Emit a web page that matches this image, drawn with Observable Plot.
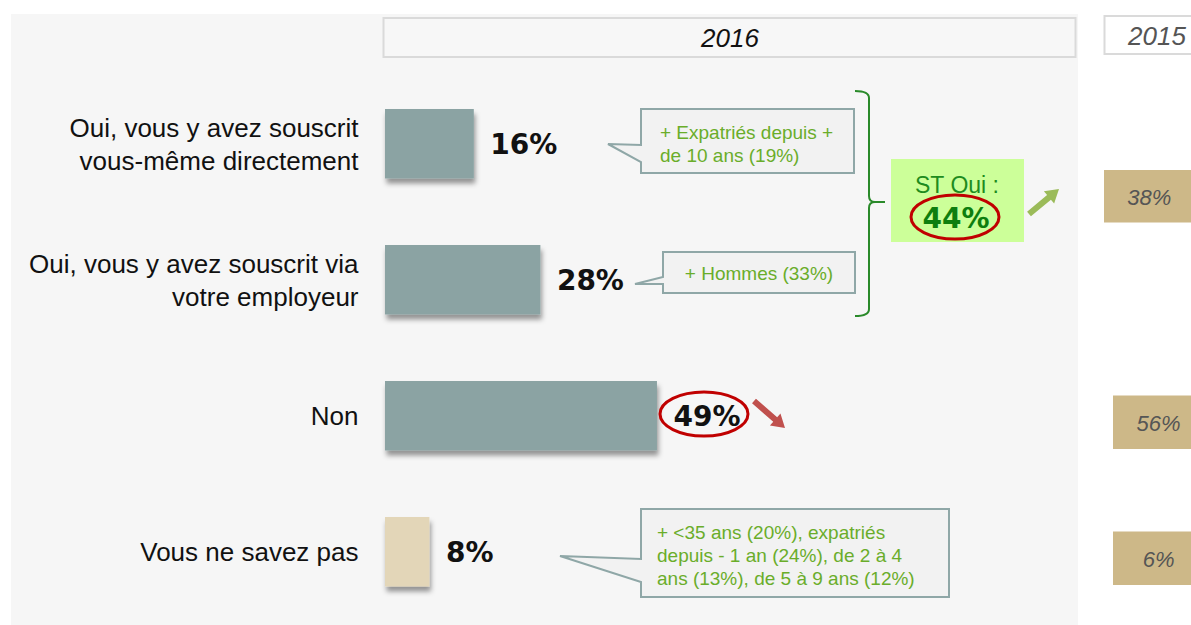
<!DOCTYPE html>
<html><head><meta charset="utf-8">
<script src="https://cdn.jsdelivr.net/npm/d3@7"></script>
<script src="https://cdn.jsdelivr.net/npm/@observablehq/plot@0.6"></script>
<style>
html,body{margin:0;padding:0;background:#fff;}
#chart{position:relative;width:1191px;height:625px;overflow:hidden}
</style></head><body><div id="chart"></div>
<script>
// ---- data ----
const categories = [
  "Oui, vous y avez souscrit\nvous-même directement",
  "Oui, vous y avez souscrit via\nvotre employeur",
  "Non",
  "Vous ne savez pas"
];
const values2016 = [16, 28, 49, 8];
const year2016 = "2016";
const year2015 = "2015";
const subtotalLabel = "ST Oui :";
const subtotal2016 = 44;
const subtotal2015 = 38;
const rows2015 = ["Non", "Vous ne savez pas"];
const values2015 = [56, 6];
const callout1 = ["+ Expatriés depuis +", "de 10 ans (19%)"];
const callout2 = ["+ Hommes (33%)"];
const callout3 = ["+ <35 ans (20%), expatriés", "depuis - 1 an (24%), de 2 à 4", "ans (13%), de 5 à 9 ans (12%)"];

const FONT = "'Liberation Sans', Arial, sans-serif";
const data = categories.map((c, i) => ({category: c, value: values2016[i]}));
const prev = rows2015.map((c, i) => ({category: c, value: values2015[i]}));
const prevSub = [{category: categories[0], value: subtotal2015}];

const plot = Plot.plot({
  width: 1191, height: 625,
  marginLeft: 385, marginRight: 251, marginTop: 75, marginBottom: 4,
  style: {background: "transparent", fontFamily: FONT, overflow: "visible"},
  x: {domain: [0, 100], axis: null},
  y: {domain: categories, padding: 0, label: null, axis: null},
  marks: [
    Plot.axisY({tickSize: 0, tickPadding: 27, fontSize: 26, lineHeight: 1.27, dy: -2, fill: "#111", label: null}),
    Plot.barX(data, {x: "value", y: "category", insetTop: 33, insetBottom: 33.5,
      fill: d => d.category === "Vous ne savez pas" ? "#E3D6B8" : "#8BA3A3", className: "bars2016"}),
    Plot.text(data, {x: "value", y: "category", text: d => d.value + "%", dx: 16, dy: 1, textAnchor: "start",
      fontSize: 28, fontWeight: "bold", fill: "#111", fontFamily: "'DejaVu Sans', sans-serif"}),
    // 2015 column
    Plot.barX(prevSub, {x1: () => 129.55, x2: () => 150, y: "category", insetTop: 94, insetBottom: -10.5, fill: "#CDB888"}),
    Plot.text(prevSub, {x: () => 137.6, y: "category", dy: 53, text: d => d.value + "%", fontSize: 22,
      fontStyle: "italic", fill: "#555"}),
    Plot.barX(prev, {x1: () => 131.17, x2: () => 150, y: "category", insetTop: 47.5, insetBottom: 35, fill: "#CDB888"}),
    Plot.text(prev, {x: () => 139.3, y: "category", dy: 7, text: d => d.value + "%", fontSize: 22,
      fontStyle: "italic", fill: "#555"})
  ]
});
document.getElementById("chart").appendChild(plot);

const svg = d3.select(plot);
const defs = svg.insert("defs", ":first-child");
// grey panel behind everything
svg.insert("rect", "defs + *").attr("x", 11).attr("y", 14).attr("width", 1067).attr("height", 620).attr("fill", "#F6F6F6");
defs.append("filter").attr("id", "shadow").attr("x", "-10%").attr("y", "-10%").attr("width", "130%").attr("height", "140%")
  .html('<feDropShadow dx="1.5" dy="5" stdDeviation="2.5" flood-color="#000" flood-opacity="0.4"/>');
svg.selectAll(".bars2016 rect").attr("filter", "url(#shadow)");

const ann = svg.append("g").attr("font-family", FONT);
// headers
ann.append("rect").attr("x", 383.5).attr("y", 18).attr("width", 692).attr("height", 39).attr("fill", "#F7F7F7").attr("stroke", "#DADADA").attr("stroke-width", 2);
ann.append("text").attr("x", 730).attr("y", 38).attr("dy", "0.35em").attr("text-anchor", "middle").attr("font-size", 26).attr("font-style", "italic").attr("fill", "#111").text(year2016);
ann.append("rect").attr("x", 1104.5).attr("y", 16).attr("width", 100).attr("height", 38).attr("fill", "#fff").attr("stroke", "#DADADA").attr("stroke-width", 2);
ann.append("text").attr("x", 1157).attr("y", 36).attr("dy", "0.35em").attr("text-anchor", "middle").attr("font-size", 26).attr("font-style", "italic").attr("fill", "#555").text(year2015);

// callouts
function callout(x0, y0, x1, y1, tipX, tipY, b0, b1, lines, tx, ty, lh, anchor) {
  const p = `M${x0},${y0}L${x1},${y0}L${x1},${y1}L${x0},${y1}L${x0},${b1}L${tipX},${tipY}L${x0},${b0}Z`;
  ann.append("path").attr("d", p).attr("fill", "#F2F2F2").attr("stroke", "#8FA7A7").attr("stroke-width", 2);
  lines.forEach((l, i) => ann.append("text").attr("x", tx).attr("y", ty + i * lh).attr("dy", "0.35em")
    .attr("text-anchor", anchor).attr("font-size", 19).attr("fill", "#6AAD2A").text(l));
}
callout(641, 109, 854, 173, 608, 144, 145, 162, callout1, 660, 132, 23, "start");
callout(663, 252, 855, 293, 635, 284, 277, 284, callout2, 759, 273, 23, "middle");
callout(641, 509, 949, 597, 560, 556, 559, 582, callout3, 657, 532, 23, "start");

// bracket
ann.append("path").attr("d", "M855,91 Q869,91 869,98 L869,196 Q869,202 875,202 L885,202 M875,202 Q869,202 869,208 L869,309 Q869,316 855,316")
  .attr("fill", "none").attr("stroke", "#2A8A2A").attr("stroke-width", 2);

// ST Oui box
ann.append("rect").attr("x", 891).attr("y", 159).attr("width", 133).attr("height", 83).attr("fill", "#CCFF99");
ann.append("text").attr("x", 957).attr("y", 185).attr("dy", "0.35em").attr("text-anchor", "middle").attr("font-size", 23).attr("fill", "#1E8C1E").text(subtotalLabel);
ann.append("text").attr("x", 956).attr("y", 218).attr("dy", "0.35em").attr("text-anchor", "middle").attr("font-size", 28).attr("font-weight", "bold").attr("font-family", "'DejaVu Sans', sans-serif").attr("fill", "#0E7E0E").text(subtotal2016 + "%");

// ellipses
ann.append("ellipse").attr("cx", 955).attr("cy", 217).attr("rx", 44).attr("ry", 22).attr("fill", "none").attr("stroke", "#C00000").attr("stroke-width", 3);
ann.append("ellipse").attr("cx", 704).attr("cy", 414).attr("rx", 44).attr("ry", 22).attr("fill", "none").attr("stroke", "#C00000").attr("stroke-width", 3);

// arrows
function arrow(x0, y0, x1, y1, color) {
  const dx = x1 - x0, dy = y1 - y0, L = Math.hypot(dx, dy), ux = dx / L, uy = dy / L, nx = -uy, ny = ux;
  const hl = 13, hw = 8, sw = 3;
  const bx = x1 - ux * hl, by = y1 - uy * hl;
  const pts = [
    [x0 + nx * sw, y0 + ny * sw], [bx + nx * sw, by + ny * sw], [bx + nx * hw, by + ny * hw], [x1, y1],
    [bx - nx * hw, by - ny * hw], [bx - nx * sw, by - ny * sw], [x0 - nx * sw, y0 - ny * sw]
  ];
  ann.append("path").attr("d", "M" + pts.map(p => p.join(",")).join("L") + "Z").attr("fill", color);
}
arrow(1029, 214, 1059, 189, "#9BBB59");
arrow(754, 401, 785, 428, "#C0504D");
</script></body></html>
